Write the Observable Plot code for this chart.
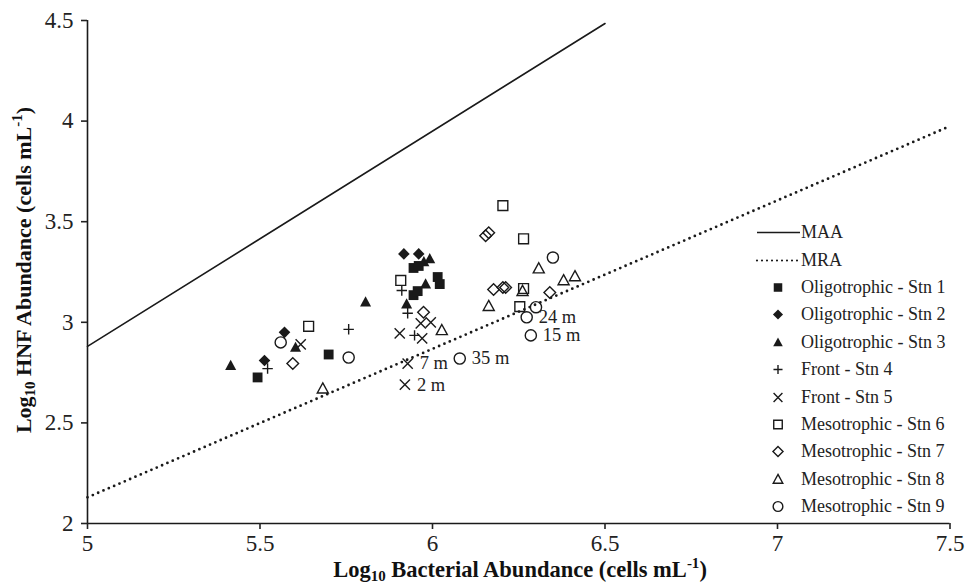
<!DOCTYPE html>
<html><head><meta charset="utf-8">
<script src="https://cdn.jsdelivr.net/npm/d3@7"></script>
<script src="https://cdn.jsdelivr.net/npm/@observablehq/plot@0.6"></script>
<style>
body{margin:0;background:#fff;}
#chart{position:relative;width:970px;height:585px;}
#legend{position:absolute;left:752px;top:219px;font-family:"Liberation Serif","Times New Roman",serif;font-size:18px;color:#222;}
.row{display:flex;align-items:center;height:27.4px;white-space:nowrap;}
.row svg{flex:none;}
</style></head><body><div id="chart"><div id="legend"></div></div>
<script>
// axis ticks
const xTicks = [5, 5.5, 6, 6.5, 7, 7.5];
const yTicks = [2, 2.5, 3, 3.5, 4, 4.5];
// reference lines
const maaX = [5, 6.5], maaY = [2.88, 4.485];
const mraX = [5, 7.5], mraY = [2.13, 3.975];
// stations
const stn1X = [5.493, 5.699, 5.945, 5.96, 6.015, 6.021, 5.945, 5.957];
const stn1Y = [2.726, 2.84, 3.27, 3.28, 3.225, 3.19, 3.135, 3.155];
const stn2X = [5.513, 5.571, 5.917, 5.96];
const stn2Y = [2.81, 2.95, 3.34, 3.34];
const stn3X = [5.415, 5.603, 5.806, 5.975, 5.992, 5.98, 5.925];
const stn3Y = [2.785, 2.875, 3.10, 3.30, 3.315, 3.19, 3.09];
const stn4X = [5.522, 5.757, 5.911, 5.928, 5.948];
const stn4Y = [2.77, 2.965, 3.158, 3.045, 2.935];
const stn5X = [5.618, 5.966, 5.995, 5.905, 5.97, 5.928, 5.92];
const stn5Y = [2.89, 2.995, 3.0, 2.945, 2.92, 2.795, 2.69];
const stn6X = [5.641, 5.908, 6.204, 6.264, 6.264, 6.253];
const stn6Y = [2.98, 3.208, 3.58, 3.415, 3.168, 3.078];
const stn7X = [5.595, 5.974, 6.154, 6.163, 6.177, 6.204, 6.212, 6.34];
const stn7Y = [2.795, 3.05, 3.43, 3.445, 3.163, 3.173, 3.173, 3.148];
const stn8X = [5.682, 6.027, 6.163, 6.261, 6.308, 6.38, 6.413];
const stn8Y = [2.67, 2.96, 3.08, 3.155, 3.267, 3.208, 3.228];
const stn9X = [5.56, 5.757, 6.079, 6.273, 6.30, 6.285, 6.349];
const stn9Y = [2.90, 2.825, 2.82, 3.025, 3.075, 2.935, 3.322];
// depth annotations
const annText = ["7 m", "2 m", "35 m", "24 m", "15 m"];
const annX = [5.928, 5.92, 6.079, 6.273, 6.285];
const annY = [2.795, 2.69, 2.82, 3.025, 2.935];
const seriesNames = ["Oligotrophic - Stn 1","Oligotrophic - Stn 2","Oligotrophic - Stn 3","Front - Stn 4","Front - Stn 5","Mesotrophic - Stn 6","Mesotrophic - Stn 7","Mesotrophic - Stn 8","Mesotrophic - Stn 9"];
const seriesKinds = ["square","diamond","triangle","plus","times","square","diamond","triangle","circle"];
const seriesFilled = [true,true,true,false,false,false,false,false,false];
const seriesX = [stn1X,stn2X,stn3X,stn4X,stn5X,stn6X,stn7X,stn8X,stn9X];
const seriesY = [stn1Y,stn2Y,stn3Y,stn4Y,stn5Y,stn6Y,stn7Y,stn8Y,stn9Y];

function sym(kind){
  return {draw(ctx, size){
    const r = Math.sqrt(size/Math.PI);
    if(kind==="square"){const s=r*0.82; ctx.rect(-s,-s,2*s,2*s);}
    else if(kind==="diamond"){const d=r*0.97; ctx.moveTo(0,-d);ctx.lineTo(d,0);ctx.lineTo(0,d);ctx.lineTo(-d,0);ctx.closePath();}
    else if(kind==="triangle"){const w=r*0.92; ctx.moveTo(0,-r*0.97);ctx.lineTo(w,r*0.72);ctx.lineTo(-w,r*0.72);ctx.closePath();}
    else if(kind==="plus"){const h=r*0.87; ctx.moveTo(-h,0);ctx.lineTo(h,0);ctx.moveTo(0,-h);ctx.lineTo(0,h);}
    else if(kind==="times"){const h=r*0.85; ctx.moveTo(-h,-h);ctx.lineTo(h,h);ctx.moveTo(h,-h);ctx.lineTo(-h,h);}
    else {const c=r*0.93; ctx.moveTo(c,0); ctx.arc(0,0,c,0,2*Math.PI);}
  }};
}
const toRows = (xs, ys) => xs.map((x,i)=>({x, y: ys[i]}));
const INK = "#1a1a1a";
const R = 6;

const dotMarks = seriesNames.map((n,i)=>Plot.dot(toRows(seriesX[i], seriesY[i]), {
  x:"x", y:"y", r:R, symbol: sym(seriesKinds[i]),
  fill: seriesFilled[i] ? INK : "none",
  stroke: seriesFilled[i] ? "none" : INK,
  strokeWidth: 1.4
}));

const plot = Plot.plot({
  width: 970, height: 585,
  marginLeft: 87, marginRight: 20.5, marginTop: 20, marginBottom: 62,
  x: {domain: [5, 7.5]},
  y: {domain: [2, 4.5]},
  style: {fontFamily: '"Liberation Serif","Times New Roman",serif', fontSize: "23px", color: "#222", background: "white", overflow: "visible"},
  marks: [
    Plot.line(toRows(maaX, maaY), {x:"x", y:"y", stroke: INK, strokeWidth: 1.6}),
    Plot.line(toRows(mraX, mraY), {x:"x", y:"y", stroke: INK, strokeWidth: 2.8, strokeDasharray: "0 5.8", strokeLinecap: "round"}),
    ...dotMarks,
    Plot.text(annText.map((t,i)=>({t, x:annX[i], y:annY[i]})), {x:"x", y:"y", text:"t", dx: 12, textAnchor:"start", fontSize: 18.5, fill: "#222"}),
    Plot.ruleX([5], {stroke: INK, strokeWidth: 1.6}),
    Plot.ruleY([2], {stroke: INK, strokeWidth: 1.6}),
    Plot.axisX(xTicks, {tickSize: 6, tickPadding: 5, tickFormat: d => String(d), label: null, strokeWidth: 1.6}),
    Plot.axisY(yTicks, {tickSize: 6, tickPadding: 8, tickFormat: d => String(d), label: null, strokeWidth: 1.6})
  ]
});
document.getElementById("chart").prepend(plot);

// axis titles with subscripts / superscripts
const svg = d3.select(plot);
const titleFont = '"Liberation Serif","Times New Roman",serif';
const xt = svg.append("text").attr("x", 520).attr("y", 577).attr("text-anchor","middle")
  .attr("font-family", titleFont).attr("font-weight","bold").attr("font-size", 22.5).attr("fill","#111");
xt.append("tspan").text("Log");
xt.append("tspan").attr("font-size",15).attr("dy",4).text("10");
xt.append("tspan").attr("dy",-4).text(" Bacterial Abundance (cells mL");
xt.append("tspan").attr("font-size",15).attr("dy",-9).text("-1");
xt.append("tspan").attr("dy",9).text(")");

const yt = svg.append("text").attr("transform","translate(31,270) rotate(-90)").attr("text-anchor","middle")
  .attr("font-family", titleFont).attr("font-weight","bold").attr("font-size", 22).attr("fill","#111");
yt.append("tspan").text("Log");
yt.append("tspan").attr("font-size",15).attr("dy",4).text("10");
yt.append("tspan").attr("dy",-4).text(" HNF Abundance (cells mL");
yt.append("tspan").attr("font-size",15).attr("dy",-9).text("-1");
yt.append("tspan").attr("dy",9).text(")");

// legend
const legend = d3.select("#legend");
function lineRow(label, dashed){
  const row = legend.append("div").attr("class","row");
  const s = row.append("svg").attr("width",49).attr("height",27);
  s.append("line").attr("x1",5).attr("x2",48).attr("y1",13.5).attr("y2",13.5)
    .attr("stroke",INK).attr("stroke-width", dashed?2.2:1.6)
    .attr("stroke-dasharray", dashed?"0 5":null).attr("stroke-linecap", dashed?"round":"butt");
  row.append("span").text(label);
}
lineRow("MAA", false);
lineRow("MRA", true);
seriesNames.forEach((n,i)=>{
  const row = legend.append("div").attr("class","row");
  const s = row.append("svg").attr("width",49).attr("height",27);
  s.append("path").attr("transform","translate(26,13.5)")
    .attr("d", d3.symbol(sym(seriesKinds[i]), Math.PI*5.2*5.2)())
    .attr("fill", seriesFilled[i] ? INK : "none")
    .attr("stroke", seriesFilled[i] ? "none" : INK)
    .attr("stroke-width", 1.4);
  row.append("span").text(n);
});
</script></body></html>
